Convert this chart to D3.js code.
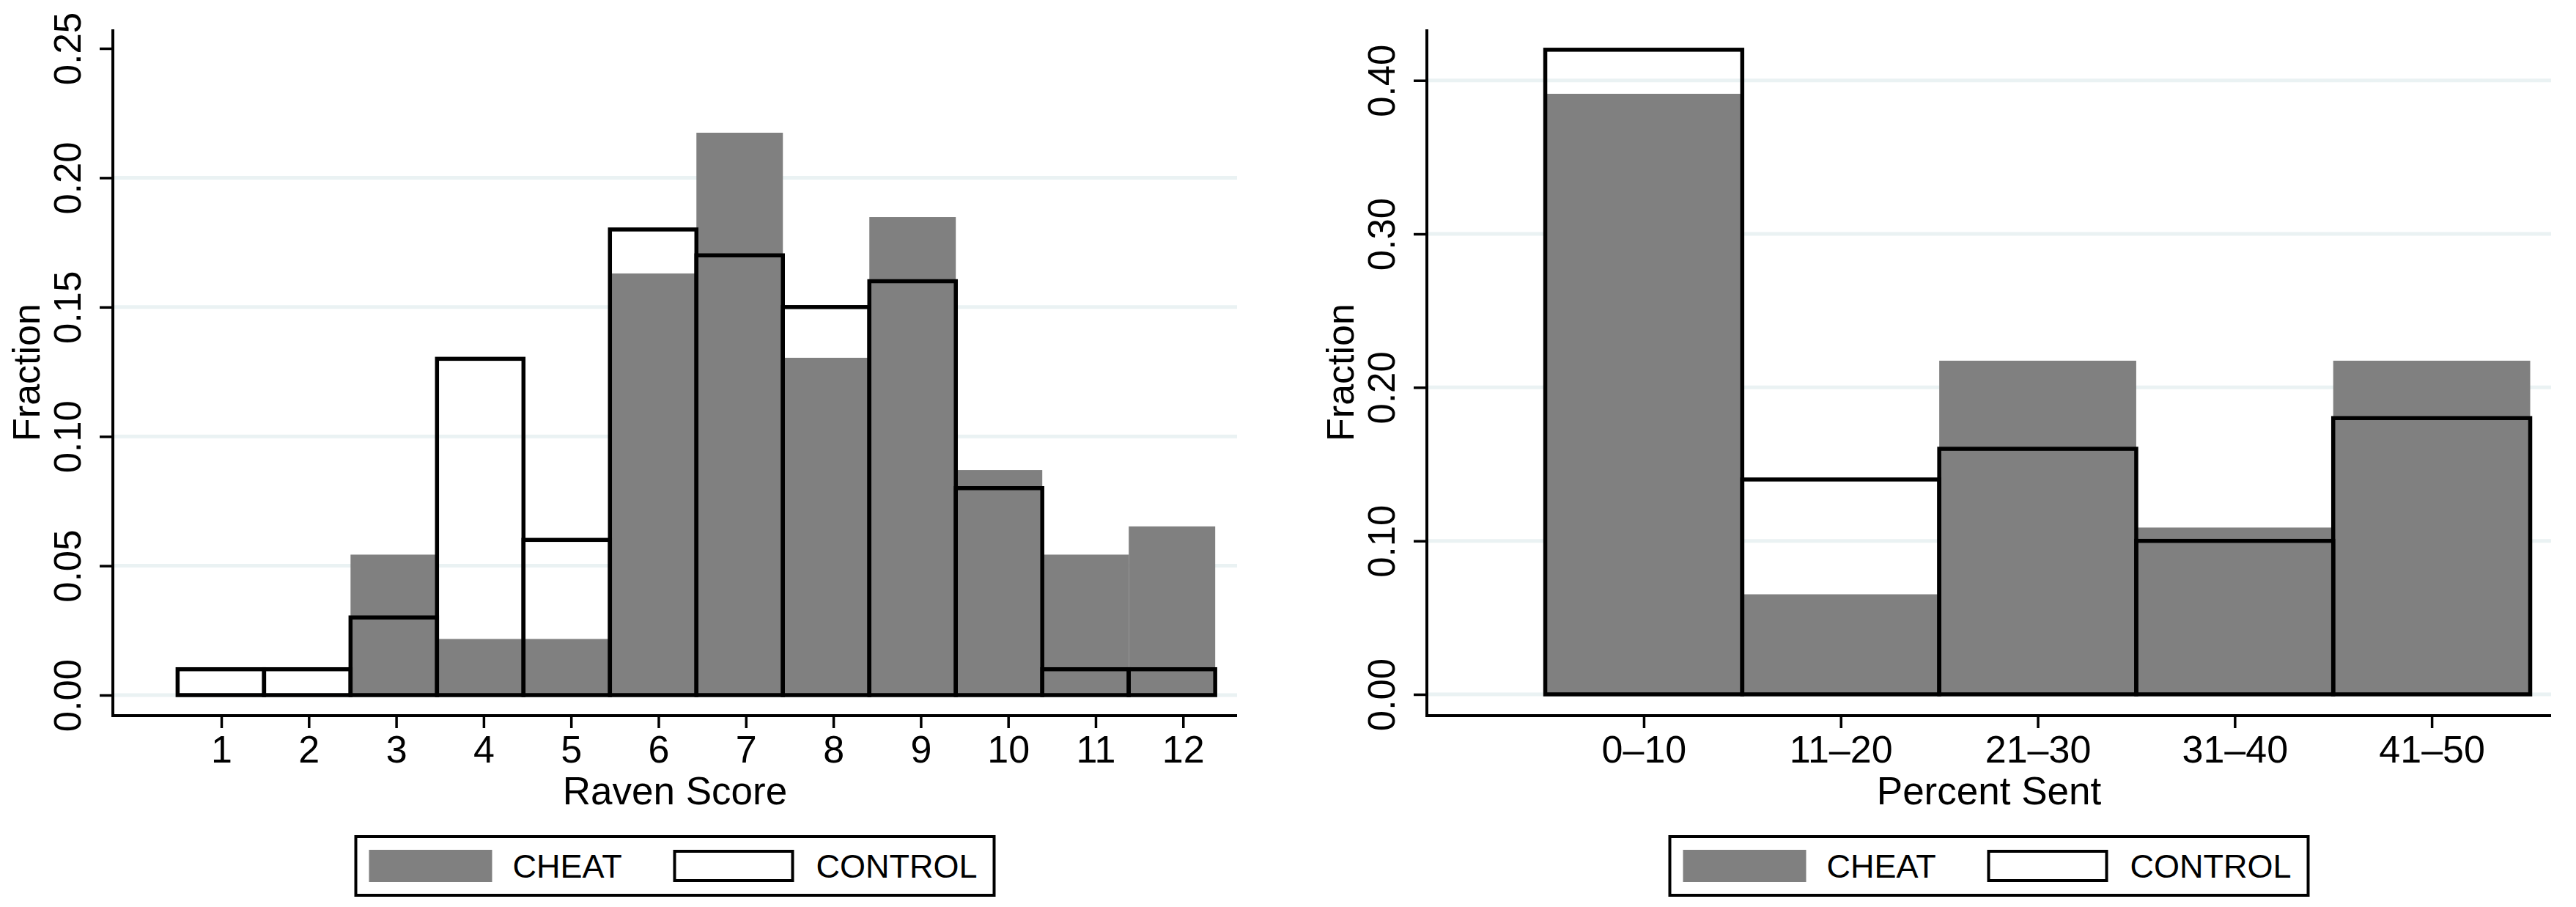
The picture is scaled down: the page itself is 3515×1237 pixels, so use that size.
<!DOCTYPE html>
<html><head><meta charset="utf-8">
<script src="https://cdn.jsdelivr.net/npm/d3@7"></script>
<style>body{margin:0;background:#fff} svg text{font-family:"Liberation Sans",Arial,Helvetica,sans-serif;fill:#000}</style>
</head><body><svg id="c" width="3515" height="1237"></svg>
<script>
// ---- data ----
const ravenScores = [1,2,3,4,5,6,7,8,9,10,11,12];
const ravenCheat = [0,0,0.0543,0.0217,0.0217,0.1630,0.2174,0.1304,0.1848,0.0870,0.0543,0.0652];
const ravenControl = [0.01,0.01,0.03,0.13,0.06,0.18,0.17,0.15,0.16,0.08,0.01,0.01];
const ravenYTicks = [0,0.05,0.10,0.15,0.20,0.25];
const sentCategories = ["0–10","11–20","21–30","31–40","41–50"];
const sentCheat = [0.3913,0.0652,0.2174,0.1087,0.2174];
const sentControl = [0.42,0.14,0.16,0.10,0.18];
const sentYTicks = [0,0.10,0.20,0.30,0.40];
const seriesNames = ["CHEAT","CONTROL"];

// ---- style ----
const GRAY = "#808080", GRID = "#eaf2f3";
const svg = d3.select("#c");
svg.append("rect").attr("width",3515).attr("height",1237).attr("fill","#fff");

function panel(o){
  const g = svg.append("g");
  const x = d3.scaleLinear().domain(o.xDomain).range([o.left,o.right]);
  const y = d3.scaleLinear().domain(o.yDomain).range(o.yRange);
  // gridlines
  g.selectAll(".grid").data(o.yTicks.filter(o.gridFilter)).enter().append("line")
    .attr("x1",o.left).attr("x2",o.right)
    .attr("y1",d=>y(d)).attr("y2",d=>y(d))
    .attr("stroke",GRID).attr("stroke-width",5);
  // cheat bars
  g.selectAll(".cheat").data(o.cheat).enter().append("rect")
    .attr("x",(d,i)=>x(o.binL(i))).attr("width",(d,i)=>x(o.binR(i))-x(o.binL(i)))
    .attr("y",d=>y(d)).attr("height",d=>y(0)-y(d))
    .attr("fill",GRAY);
  // control bars
  g.selectAll(".ctrl").data(o.control).enter().append("rect")
    .attr("x",(d,i)=>x(o.binL(i))).attr("width",(d,i)=>x(o.binR(i))-x(o.binL(i)))
    .attr("y",d=>y(d)).attr("height",d=>y(0)-y(d))
    .attr("fill","none").attr("stroke","#000").attr("stroke-width",5.5);
  // y axis
  const ya = g.append("g").attr("transform",`translate(${o.left},0)`)
    .call(d3.axisLeft(y).tickValues(o.yTicks).tickFormat(d3.format(".2f")).tickSize(18).tickSizeOuter(0));
  ya.select(".domain").remove();
  ya.selectAll(".tick line").attr("stroke","#000").attr("stroke-width",3.5);
  ya.selectAll(".tick text").attr("x",0).attr("dy",0).attr("text-anchor","middle")
    .attr("transform","translate(-44,0) rotate(-90)").style("font-size","51px");
  // x axis
  const xa = g.append("g").attr("transform",`translate(0,${o.bottom})`)
    .call(d3.axisBottom(x).tickValues(o.xTicks).tickFormat(o.xFormat).tickSize(17).tickSizeOuter(0));
  xa.select(".domain").remove();
  xa.selectAll(".tick line").attr("stroke","#000").attr("stroke-width",3.5);
  xa.selectAll(".tick text").attr("y",64).attr("dy",0).style("font-size","52px");
  // axis lines
  g.append("path").attr("d",`M${o.left},${o.top}V${o.bottom}H${o.right}`)
    .attr("fill","none").attr("stroke","#000").attr("stroke-width",4);
  // titles
  const cx = (o.left+o.right)/2;
  g.append("text").attr("x",cx).attr("y",1097).attr("text-anchor","middle")
    .style("font-size","53px").text(o.xTitle);
  g.append("text").attr("transform",`translate(${o.left-100},${(o.top+o.bottom)/2}) rotate(-90)`)
    .attr("text-anchor","middle").style("font-size","52px").text("Fraction");
  // legend
  const lx = cx - 437.5, ly = 1139;
  const L = g.append("g");
  L.append("rect").attr("x",lx+2).attr("y",ly+2).attr("width",871).attr("height",80)
    .attr("fill","#fff").attr("stroke","#000").attr("stroke-width",4);
  L.append("rect").attr("x",lx+20).attr("y",ly+20).attr("width",168).attr("height",44).attr("fill",GRAY);
  L.append("text").attr("x",lx+216).attr("y",ly+58).style("font-size","45px").text(seriesNames[0]);
  L.append("rect").attr("x",lx+437).attr("y",ly+22).attr("width",161).attr("height",40)
    .attr("fill","none").attr("stroke","#000").attr("stroke-width",4);
  L.append("text").attr("x",lx+630).attr("y",ly+58).style("font-size","45px").text(seriesNames[1]);
}

const ravenBinStart = 0.5, ravenBinWidth = 0.989;
panel({
  left:154, right:1688, top:40, bottom:976,
  xDomain:[-0.2406,12.618], yDomain:[0,0.25], yRange:[948,66],
  yTicks:ravenYTicks, gridFilter:d=>d<0.25,
  xTicks:ravenScores, xFormat:d=>d,
  cheat:ravenCheat, control:ravenControl,
  binL:i=>ravenBinStart+i*ravenBinWidth, binR:i=>ravenBinStart+(i+1)*ravenBinWidth,
  xTitle:"Raven Score"
});
panel({
  left:1947, right:3481, top:40, bottom:976,
  xDomain:[-0.101,5.606], yDomain:[0,0.40], yRange:[947,109.7],
  yTicks:sentYTicks, gridFilter:d=>true,
  xTicks:sentCategories.map((d,i)=>i+1), xFormat:d=>sentCategories[d-1],
  cheat:sentCheat, control:sentControl,
  binL:i=>i+0.5, binR:i=>i+1.5,
  xTitle:"Percent Sent"
});
</script></body></html>
